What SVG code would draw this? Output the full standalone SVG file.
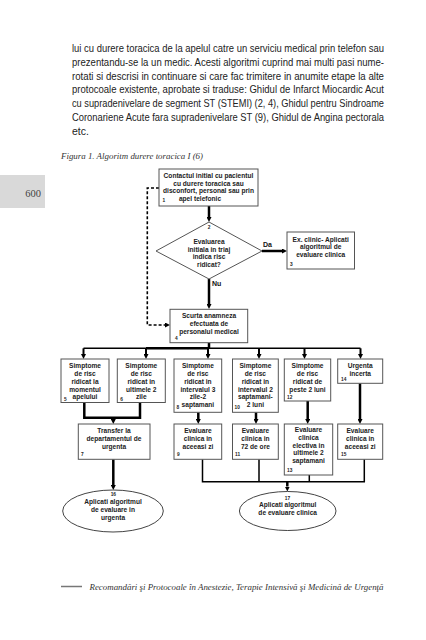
<svg xmlns="http://www.w3.org/2000/svg" width="426" height="640" viewBox="0 0 426 640">
<defs>
<style>
.body{font-family:"Liberation Sans",Arial,sans-serif;font-size:10.5px;fill:#222}
.cap{font-family:"Liberation Serif","Times New Roman",serif;font-style:italic;font-size:8.5px;fill:#333}
.box{fill:#fff;stroke:#555;stroke-width:1}
.t{font-family:"Liberation Sans",Arial,sans-serif;font-weight:bold;font-size:6.6px;fill:#222;text-anchor:middle}
.n{font-family:"Liberation Sans",Arial,sans-serif;font-weight:bold;font-size:4.8px;fill:#222}
.lbl{font-family:"Liberation Sans",Arial,sans-serif;font-weight:bold;font-size:7px;fill:#111}
.thick{stroke:#000;stroke-width:2.5;fill:none}
.med{stroke:#000;stroke-width:2;fill:none}
.thin{stroke:#000;stroke-width:1.5;fill:none}
.dash{stroke:#000;stroke-width:1.6;fill:none;stroke-dasharray:3 2}
</style>
<marker id="ah" viewBox="0 0 10 10" refX="0" refY="5" markerWidth="5" markerHeight="5" markerUnits="userSpaceOnUse" orient="auto"><path d="M0,0 L10,5 L0,10 z" fill="#000"/></marker>
</defs>
<rect width="426" height="640" fill="#fff"/>

<g id="page-text">
<text class="body" x="72" y="52" textLength="312" lengthAdjust="spacingAndGlyphs">lui cu durere toracica de la apelul catre un serviciu medical prin telefon sau</text>
<text class="body" x="72" y="65.8" textLength="312" lengthAdjust="spacingAndGlyphs">prezentandu-se la un medic. Acesti algoritmi cuprind mai multi pasi nume-</text>
<text class="body" x="72" y="79.6" textLength="312" lengthAdjust="spacingAndGlyphs">rotati si descrisi in continuare si care fac trimitere in anumite etape la alte</text>
<text class="body" x="72" y="93.4" textLength="312" lengthAdjust="spacingAndGlyphs">protocoale existente, aprobate si traduse: Ghidul de Infarct Miocardic Acut</text>
<text class="body" x="72" y="107.2" textLength="312" lengthAdjust="spacingAndGlyphs">cu supradenivelare de segment ST (STEMI) (2, 4), Ghidul  pentru Sindroame</text>
<text class="body" x="72" y="121" textLength="312" lengthAdjust="spacingAndGlyphs">Coronariene Acute  fara supradenivelare ST (9), Ghidul de Angina pectorala</text>
<text class="body" x="72" y="134.8">etc.</text>
<text class="cap" x="61" y="159" textLength="142" lengthAdjust="spacingAndGlyphs">Figura 1. Algoritm durere toracica I (6)</text>
<rect x="0" y="175" width="45" height="33" fill="#d9d9d9"/>
<text x="33" y="196.5" text-anchor="middle" font-family="Liberation Serif,serif" font-size="10.5" fill="#444">600</text>
<line x1="61" y1="586.5" x2="82" y2="586.5" stroke="#777" stroke-width="1.5"/>
<text class="cap" x="89.5" y="589.5" textLength="294" lengthAdjust="spacingAndGlyphs">Recomandări şi Protocoale în Anestezie, Terapie Intensivă şi Medicină de Urgenţă</text>
</g>

<g id="connectors">
<path class="thick" d="M209,206 V217" marker-end="url(#ah)"/>
<path class="thick" d="M262,251 H282" marker-end="url(#ah)"/>
<path class="thick" d="M209,279 V304" marker-end="url(#ah)"/>
<path class="thick" d="M209,342.7 V348.3"/>
<path class="thin" d="M83.5,348.3 H360.5"/>
<path class="thick" d="M146,348.3 H209" stroke-width="3"/>
<path class="med" d="M83.5,348.3 V354" marker-end="url(#ah)"/>
<path class="med" d="M146,348.3 V354" marker-end="url(#ah)"/>
<path class="med" d="M208,348.3 V354" marker-end="url(#ah)"/>
<path class="med" d="M259,348.3 V354" marker-end="url(#ah)"/>
<path class="med" d="M304.5,348.3 V354" marker-end="url(#ah)"/>
<path class="med" d="M360.5,348.3 V354" marker-end="url(#ah)"/>
<path class="thick" d="M84.3,402.5 V417.7 H140 V402.5"/>
<path class="thick" d="M113.3,417.7 V419" marker-end="url(#ah)"/>
<path class="thick" d="M198.3,412.3 V419" marker-end="url(#ah)"/>
<path class="thick" d="M256,412.3 V419" marker-end="url(#ah)"/>
<path class="thick" d="M307.7,401 V419" marker-end="url(#ah)"/>
<path class="thick" d="M360,383.3 V419" marker-end="url(#ah)"/>
<path class="thick" d="M113.3,459.3 V485" marker-end="url(#ah)"/>
<path class="thin" d="M202.5,459.3 V481.7 H364.3 V459.3 M259,459.3 V481.7 M309.3,475 V481.7"/>
<path class="thick" d="M287.3,481.7 V486.5" marker-end="url(#ah)"/>
<path class="dash" d="M159,188 H147.3 V325 H165" marker-end="url(#ah)"/>
</g>

<g id="n1">
<rect class="box" x="159" y="169" width="99" height="37"/>
<text class="t" x="208.5" y="178.3">Contactul initial cu pacientul</text>
<text class="t" x="208.5" y="185.7">cu durere toracica sau</text>
<text class="t" x="208.5" y="193.1">disconfort, personal sau prin</text>
<text class="t" x="200" y="200.8">apel telefonic</text>
<text class="n" x="162.5" y="201.5">1</text>
</g>

<g id="n2">
<polygon points="209,222 262,251 209,279 156,251" fill="#fff" stroke="#555" stroke-width="1"/>
<text class="n" x="209" y="229" text-anchor="middle">2</text>
<text class="t" x="209" y="244">Evaluarea</text>
<text class="t" x="209" y="251.6">initiala in triaj</text>
<text class="t" x="209" y="259.3">indica risc</text>
<text class="t" x="209" y="267">ridicat?</text>
<text class="lbl" x="263" y="247">Da</text>
<text class="lbl" x="212" y="286">Nu</text>
</g>

<g id="n3">
<rect class="box" x="287" y="232" width="67.5" height="37"/>
<text class="t" x="320.7" y="241.6">Ex. clinic- Aplicati</text>
<text class="t" x="320.7" y="249.3">algoritmul de</text>
<text class="t" x="320.7" y="257">evaluare clinica</text>
<text class="n" x="290" y="266">3</text>
</g>

<g id="n4">
<rect class="box" x="170" y="309.3" width="77.7" height="33.4"/>
<text class="t" x="209" y="318.3">Scurta anamneza</text>
<text class="t" x="209" y="326">efectuata de</text>
<text class="t" x="209" y="333.6">personalul medical</text>
<text class="n" x="175" y="339.5">4</text>
</g>

<g id="n5">
<rect class="box" x="61" y="359" width="48" height="43.5"/>
<text class="t" x="85" y="368.3">Simptome</text>
<text class="t" x="85" y="376">de risc</text>
<text class="t" x="85" y="383.8">ridicat la</text>
<text class="t" x="85" y="391.6">momentul</text>
<text class="t" x="85" y="399.4">apelului</text>
<text class="n" x="64" y="400.5">5</text>
</g>

<g id="n6">
<rect class="box" x="117.3" y="359" width="48" height="43.5"/>
<text class="t" x="141.3" y="368.3">Simptome</text>
<text class="t" x="141.3" y="376">de risc</text>
<text class="t" x="141.3" y="383.8">ridicat in</text>
<text class="t" x="141.3" y="391.6">ultimele 2</text>
<text class="t" x="141.3" y="399.4">zile</text>
<text class="n" x="120.3" y="400.5">6</text>
</g>

<g id="n8">
<rect class="box" x="174" y="359" width="47.7" height="53.3"/>
<text class="t" x="197.9" y="368.3">Simptome</text>
<text class="t" x="197.9" y="376">de risc</text>
<text class="t" x="197.9" y="383.8">ridicat in</text>
<text class="t" x="197.9" y="391.6">intervalul 3</text>
<text class="t" x="197.9" y="399.4">zile-2</text>
<text class="t" x="197.9" y="407.4">saptamani</text>
<text class="n" x="176.5" y="409">8</text>
</g>

<g id="n10">
<rect class="box" x="232.5" y="359" width="45.8" height="53.3"/>
<text class="t" x="255.4" y="368.3">Simptome</text>
<text class="t" x="255.4" y="376">de risc</text>
<text class="t" x="255.4" y="383.8">ridicat in</text>
<text class="t" x="255.4" y="391.6">intervalul 2</text>
<text class="t" x="255.4" y="399.4">saptamani-</text>
<text class="t" x="255.4" y="407.4">2 luni</text>
<text class="n" x="234.5" y="409">10</text>
</g>

<g id="n12">
<rect class="box" x="284.3" y="359" width="46.4" height="42"/>
<text class="t" x="307.5" y="368.3">Simptome</text>
<text class="t" x="307.5" y="376">de risc</text>
<text class="t" x="307.5" y="383.8">ridicat de</text>
<text class="t" x="307.5" y="391.6">peste 2 luni</text>
<text class="n" x="287" y="398.5">12</text>
</g>

<g id="n14">
<rect class="box" x="337.7" y="359" width="45" height="24.3"/>
<text class="t" x="360.2" y="368">Urgenta</text>
<text class="t" x="360.2" y="375.6">incerta</text>
<text class="n" x="341" y="380.5">14</text>
</g>

<g id="n7">
<rect class="box" x="78.3" y="424" width="71.7" height="35.3"/>
<text class="t" x="114" y="433.3">Transfer la</text>
<text class="t" x="114" y="441">departamentul de</text>
<text class="t" x="114" y="448.7">urgenta</text>
<text class="n" x="81" y="456">7</text>
</g>

<g id="n9">
<rect class="box" x="174" y="424" width="47.7" height="35.3"/>
<text class="t" x="197.9" y="433.3">Evaluare</text>
<text class="t" x="197.9" y="441">clinica in</text>
<text class="t" x="197.9" y="448.7">aceeasi zi</text>
<text class="n" x="177" y="456">9</text>
</g>

<g id="n11">
<rect class="box" x="232.5" y="424" width="45.8" height="35.3"/>
<text class="t" x="255.4" y="433.3">Evaluare</text>
<text class="t" x="255.4" y="441">clinica in</text>
<text class="t" x="255.4" y="448.7">72 de ore</text>
<text class="n" x="235" y="456">11</text>
</g>

<g id="n13">
<rect class="box" x="284.3" y="424" width="48.4" height="51"/>
<text class="t" x="308.5" y="432.3">Evaluare</text>
<text class="t" x="308.5" y="440">clinica</text>
<text class="t" x="308.5" y="447.7">electiva in</text>
<text class="t" x="308.5" y="455.4">ultimele 2</text>
<text class="t" x="308.5" y="463.1">saptamani</text>
<text class="n" x="287" y="472">13</text>
</g>

<g id="n15">
<rect class="box" x="337.7" y="424" width="45" height="35.3"/>
<text class="t" x="360.2" y="433.3">Evaluare</text>
<text class="t" x="360.2" y="441">clinica in</text>
<text class="t" x="360.2" y="448.7">aceeasi zi</text>
<text class="n" x="341" y="456">15</text>
</g>

<g id="n16">
<ellipse cx="113" cy="511" rx="50.3" ry="21" fill="#fff" stroke="#444" stroke-width="1"/>
<text class="n" x="113.3" y="496" text-anchor="middle">16</text>
<text class="t" x="113" y="504.3" font-size="7">Aplicati algoritmul</text>
<text class="t" x="113" y="512.3" font-size="7">de evaluare in</text>
<text class="t" x="113" y="520.3" font-size="7">urgenta</text>
</g>

<g id="n17">
<ellipse cx="287.7" cy="511" rx="48.3" ry="19.5" fill="#fff" stroke="#444" stroke-width="1"/>
<text class="n" x="287.5" y="499.5" text-anchor="middle">17</text>
<text class="t" x="287.7" y="506.6" font-size="7">Aplicati algoritmul</text>
<text class="t" x="287.7" y="514.6" font-size="7">de evaluare clinica</text>
</g>
</svg>
